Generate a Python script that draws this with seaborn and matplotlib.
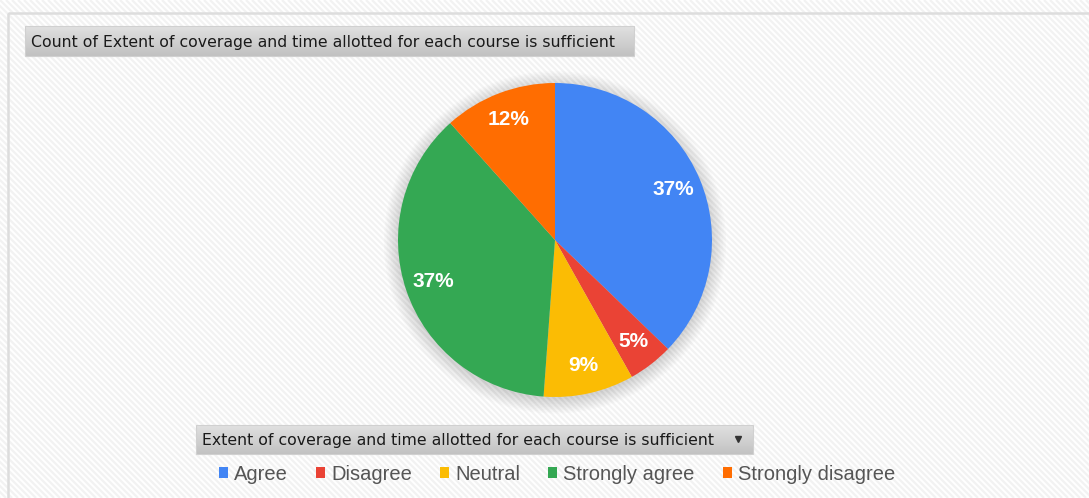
import numpy as np
import matplotlib
matplotlib.use('Agg')
import matplotlib.pyplot as plt
import seaborn as sns
from matplotlib.patches import Rectangle, Circle, Patch

# Data (counts: 37 / 5 / 9 / 37 / 12 %)
categories = ['Agree', 'Disagree', 'Neutral', 'Strongly agree', 'Strongly disagree']
counts = [16, 2, 4, 16, 5]
colors = ['#4285F4', '#EA4335', '#FBBC04', '#34A853', '#FF6D01']

chart_title = 'Count of Extent of coverage and time allotted for each course is sufficient'
legend_title = 'Extent of coverage and time allotted for each course is sufficient'

sns.set_theme(style='white')
plt.rcParams['font.family'] = ['DejaVu Sans']

W, H = 1089, 498
fig = plt.figure(figsize=(W / 100, H / 100), dpi=100)

# ---------- background (pixel coordinates) ----------
bg = fig.add_axes([0, 0, 1, 1])
bg.set_xlim(0, W)
bg.set_ylim(H, 0)
bg.axis('off')
bg.add_patch(Rectangle((0, 0), W, H, facecolor='white', edgecolor='none', zorder=0))
# faint diagonal pattern
for x0 in np.arange(-H, W, 6):
    bg.plot([x0, x0 + H], [0, H], color='#f2f2f2', lw=1.6, zorder=1, solid_capstyle='butt')
bg.add_patch(Rectangle((8, 13), W, H, facecolor='none', edgecolor='#dddddd', lw=1.8, zorder=2))


def gray_bar(x0, y0, x1, y1):
    grad = np.linspace(0.88, 0.76, 30).reshape(-1, 1)
    bg.imshow(grad, cmap='gray', vmin=0, vmax=1, extent=(x0, x1, y1, y0),
              aspect='auto', zorder=3, interpolation='bilinear')
    bg.add_patch(Rectangle((x0, y0), x1 - x0, y1 - y0, facecolor='none',
                           edgecolor='#d0d0d0', lw=0.8, zorder=4))


gray_bar(25, 26, 634, 56)
bg.text(31, 42, chart_title, fontsize=11.3, color='#1a1a1a', va='center', ha='left', zorder=5)

gray_bar(196, 425, 753, 454)
bg.text(202, 440, legend_title, fontsize=11.3, color='#1a1a1a', va='center', ha='left', zorder=5)
bg.plot([738], [439], marker='v', color='#333333', markersize=5, zorder=5)

# ---------- pie ----------
cx, cy, r = 555, 240, 157
lim = 1.15
half = r * lim
pax = fig.add_axes([(cx - half) / W, (H - cy - half) / H, 2 * half / W, 2 * half / H])

# soft shadow
for rr in np.linspace(1.09, 1.0, 10):
    pax.add_patch(Circle((0, -0.015), rr, facecolor='black', alpha=0.017,
                         edgecolor='none', zorder=0))

wedges, texts, autotexts = pax.pie(
    counts, colors=colors, startangle=90, counterclock=False,
    autopct='%1.0f%%', pctdistance=0.82, radius=1.0,
    wedgeprops=dict(edgecolor='none'),
    textprops=dict(color='white', fontsize=15, fontweight='bold',
                   family=['Liberation Sans', 'DejaVu Sans']))
for w in wedges:
    w.set_zorder(2)
for t in autotexts:
    t.set_zorder(3)
pax.set_xlim(-lim, lim)
pax.set_ylim(-lim, lim)
pax.set_aspect('equal')
pax.axis('off')

# ---------- legend ----------
handles = [Patch(facecolor=c, edgecolor='none', label=l) for c, l in zip(colors, categories)]
leg = fig.legend(handles=handles, loc='center', bbox_to_anchor=(557 / W, 1 - 474 / H),
                 ncol=5, frameon=False, handlelength=0.45, handleheight=0.45,
                 handletextpad=0.3, columnspacing=1.4,
                 prop=dict(family=['Liberation Sans', 'DejaVu Sans'], size=14.5))
for t in leg.get_texts():
    t.set_color('#555555')

fig.savefig('out.png', dpi=100)
